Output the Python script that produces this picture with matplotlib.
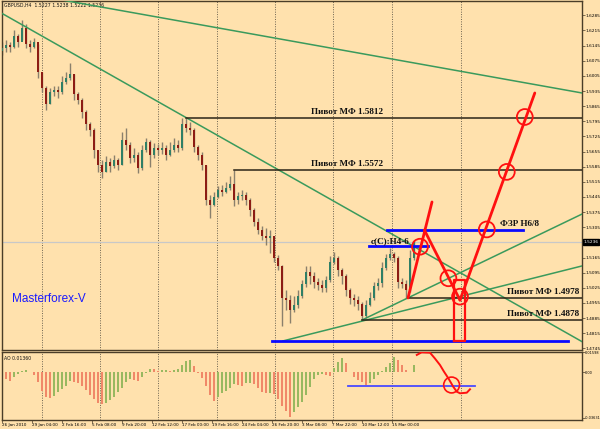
import numpy as np
import matplotlib.pyplot as plt

# GBPUSD H4, one drawn candle per two real bars (candle index = x)
closes = [1.6134, 1.6148, 1.6139, 1.6189, 1.6162, 1.6226, 1.6152, 1.6139, 1.6162, 1.6023,
          1.5949, 1.5875, 1.5931, 1.5940, 1.5931, 1.5977, 1.5995, 1.6014, 1.5921, 1.5894,
          1.5838, 1.5783, 1.5755, 1.5662, 1.5593, 1.5560, 1.5607, 1.5588, 1.5616, 1.5593,
          1.5709, 1.5685, 1.5625, 1.5639, 1.5579, 1.5662, 1.5699, 1.5639, 1.5672, 1.5662,
          1.5672, 1.5639, 1.5662, 1.5685, 1.5672, 1.5783, 1.5764, 1.5755, 1.5676, 1.5639,
          1.5593, 1.5431, 1.5408, 1.5445, 1.5477, 1.5468, 1.5487, 1.5505, 1.5431, 1.5450,
          1.5454, 1.5431, 1.5385, 1.5329, 1.5292, 1.5265, 1.5255, 1.5265, 1.5163, 1.5126,
          1.4978, 1.4969, 1.4922, 1.4945, 1.4987, 1.5043, 1.5098, 1.5080, 1.5052, 1.5038,
          1.5024, 1.5061, 1.5144, 1.5163, 1.5107, 1.5080, 1.5015, 1.4978, 1.4969, 1.4950,
          1.4894, 1.4945, 1.4978, 1.5034, 1.5047, 1.5117, 1.5163, 1.5181, 1.5163, 1.5052,
          1.5043, 1.5015, 1.5163, 1.5236]
highs = [1.6162, 1.6171, 1.6162, 1.6217, 1.6199, 1.6264, 1.6245, 1.6171, 1.6180, 1.6152,
         1.6023, 1.5958, 1.5949, 1.5958, 1.5958, 1.6005, 1.6023, 1.6065, 1.6014, 1.5931,
         1.5903, 1.5847, 1.5792, 1.5764, 1.5662, 1.5616, 1.5634, 1.5625, 1.5639, 1.5625,
         1.5746, 1.5764, 1.5699, 1.5672, 1.5653, 1.5685, 1.5718, 1.5709, 1.5695, 1.5690,
         1.5699, 1.5685, 1.5699, 1.5718, 1.5709, 1.5810, 1.5812, 1.5792, 1.5764, 1.5685,
         1.5653, 1.5593, 1.5454, 1.5468, 1.5496, 1.5500, 1.5514, 1.5542, 1.5572, 1.5468,
         1.5477, 1.5468, 1.5440, 1.5394, 1.5348, 1.5311, 1.5302, 1.5292, 1.5265, 1.5177,
         1.5130, 1.5015, 1.4992, 1.4987, 1.5015, 1.5061, 1.5126, 1.5126, 1.5098, 1.5070,
         1.5061, 1.5080, 1.5172, 1.5191, 1.5172, 1.5117, 1.5089, 1.5024, 1.4996, 1.4987,
         1.4959, 1.4969, 1.5006, 1.5052, 1.5070, 1.5144, 1.5181, 1.5209, 1.5191, 1.5172,
         1.5070, 1.5061, 1.5200, 1.5246]
lows = [1.6102, 1.6116, 1.6116, 1.6134, 1.6139, 1.6171, 1.6134, 1.6116, 1.6134, 1.5995,
        1.5931, 1.5847, 1.5875, 1.5912, 1.5903, 1.5921, 1.5968, 1.5986, 1.5894, 1.5875,
        1.5810, 1.5755, 1.5727, 1.5625, 1.5560, 1.5533, 1.5560, 1.5560, 1.5579, 1.5570,
        1.5593, 1.5662, 1.5602, 1.5607, 1.5556, 1.5570, 1.5653, 1.5584, 1.5625, 1.5639,
        1.5644, 1.5616, 1.5634, 1.5653, 1.5653, 1.5662, 1.5746, 1.5732, 1.5653, 1.5616,
        1.5570, 1.5408, 1.5348, 1.5403, 1.5440, 1.5450, 1.5463, 1.5477, 1.5403, 1.5413,
        1.5431, 1.5408, 1.5357, 1.5311, 1.5274, 1.5246, 1.5223, 1.5186, 1.5144, 1.5107,
        1.4848, 1.4922, 1.4862, 1.4913, 1.4932, 1.4978, 1.5029, 1.5043, 1.5024, 1.5015,
        1.5006, 1.5006, 1.5052, 1.5135, 1.5080, 1.5043, 1.4987, 1.4950, 1.4941, 1.4922,
        1.4878, 1.4885, 1.4941, 1.4969, 1.5015, 1.5029, 1.5107, 1.5153, 1.5144, 1.5024,
        1.5024, 1.4978, 1.5006, 1.5153]
first_open = 1.6120

ao = [-0.0034, -0.0053, -0.0066, -0.0040, -0.0013, 0.0013, 0.0019, 0.0003, -0.0019, -0.0077,
      -0.0146, -0.0193, -0.0207, -0.0186, -0.0159, -0.0135, -0.0106, -0.0069, -0.0077, -0.0087,
      -0.0109, -0.0140, -0.0180, -0.0212, -0.0241, -0.0254, -0.0244, -0.0220, -0.0193, -0.0156,
      -0.0125, -0.0080, -0.0056, -0.0061, -0.0066, -0.0040, -0.0008, 0.0027, 0.0024, 0.0013,
      0.0016, 0.0019, 0.0011, 0.0019, 0.0029, 0.0058, 0.0090, 0.0098, 0.0050, -0.0003,
      -0.0048, -0.0109, -0.0180, -0.0228, -0.0199, -0.0167, -0.0148, -0.0127, -0.0093, -0.0101,
      -0.0106, -0.0087, -0.0082, -0.0095, -0.0127, -0.0154, -0.0167, -0.0162, -0.0170, -0.0215,
      -0.0265, -0.0310, -0.0352, -0.0318, -0.0278, -0.0236, -0.0178, -0.0114, -0.0053, -0.0024,
      -0.0013, -0.0019, -0.0029, 0.0032, 0.0082, 0.0111, 0.0072, 0.0005, -0.0034, -0.0058,
      -0.0074, -0.0098, -0.0082, -0.0050, -0.0021, 0.0013, 0.0040, 0.0077, 0.0119, 0.0098,
      0.0056, 0.0019, 0.0003, 0.0058]

date_labels = ["26 Jan 2010", "29 Jan 04:00", "2 Feb 16:00", "5 Feb 08:00", "9 Feb 20:00",
               "12 Feb 12:00", "17 Feb 00:00", "19 Feb 16:00", "24 Feb 04:00", "26 Feb 20:00",
               "3 Mar 08:00", "7 Mar 22:00", "10 Mar 12:00", "15 Mar 00:00"]
price_ticks = [1.6285, 1.6215, 1.6145, 1.6075, 1.6005, 1.5935, 1.5865, 1.5795, 1.5725, 1.5655,
               1.5585, 1.5515, 1.5445, 1.5375, 1.5305, 1.5165, 1.5095, 1.5025, 1.4955, 1.4885,
               1.4815, 1.4745]
last_price = 1.5236

# pivot levels: (price, start candle, label right end)
pivots = [(1.5812, 46, 95.3), (1.5572, 58, 95.3), (1.4978, 101.5, 144.3), (1.4878, 90, 144.3)]
# green trend lines (x0, p0, x1, p1)
green_lines = [(15, 1.6356, 145, 1.5926), (0, 1.6294, 145, 1.4776),
               (70.2, 1.4779, 145, 1.5126), (90, 1.4876, 145, 1.5366)]
# blue levels (price, x0, x1)
blue_levels = [(1.4779, 67.5, 141.5), (1.5216, 91.7, 106.5), (1.5292, 96.2, 130.2)]
# red forecast strokes
red_strokes = [([101.5, 107.5], [1.4978, 1.5422]),
               ([105.6, 114.5], [1.5292, 1.4968]),
               ([114.5, 133.2], [1.4968, 1.5926])]
red_circles_x = [104.5, 111.6, 114.5, 121.2, 126.2, 130.7]
red_circles_p = [1.5215, 1.5069, 1.4984, 1.5295, 1.5561, 1.5815]
red_box = (113.0, 115.8, 1.4779, 1.5061)
time_line_x = 114.75
ao_blue = (-0.0107, 86.4, 118.2)
ao_curve_x = [103.7, 104.9, 107.0, 108.2, 109.5, 110.5, 111.6, 112.8, 113.7, 114.5, 116.2, 117.0]
ao_curve_v = [0.0138, 0.0159, 0.0156, 0.0111, 0.0058, 0.0005, -0.0048, -0.0114, -0.0154,
              -0.0167, -0.0162, -0.0135]
ao_circle = (112.4, -0.0101)

bg = "#ffe1ad"
frame = "#4a3d28"
fig = plt.figure(figsize=(6, 4.29), dpi=100, facecolor=bg)
ax = fig.add_axes([0.0025, 1 - 349.5 / 429, 0.967, 349.0 / 429])
ax2 = fig.add_axes([0.0025, 1 - 420 / 429, 0.967, 68.5 / 429], sharex=ax)
for a in (ax, ax2):
    a.set_facecolor(bg)
    for s in a.spines.values():
        s.set_color(frame)
        s.set_linewidth(1.0)
    a.yaxis.tick_right()
    a.tick_params(axis="y", labelsize=3.1, length=2, width=0.5, color=frame, pad=1.0)
    for g in [9.9, 24.5, 39.1, 53.7, 68.3, 82.8, 97.4]:
        a.axvline(g, color="#6b6250", lw=0.7, ls=(0, (1, 1.5)), zorder=0)
    a.axvline(time_line_x, color="#6b6250", lw=0.7, ls=(0, (1, 1.5)), zorder=0)

n = len(closes)
x = np.arange(n)
opens = [first_open] + closes[:-1]

ax.axhline(last_price, color="#c8c8c8", lw=0.9, zorder=1)
ax.vlines(x, lows, highs, color="#8a806c", lw=1.0, zorder=2)
body_lo = np.minimum(opens, closes)
body_h = np.abs(np.array(closes) - np.array(opens))
body_h = np.maximum(body_h, 0.0003)
colors = ["#2f7f66" if c >= o else "#8c1c14" for o, c in zip(opens, closes)]
ax.bar(x, body_h, bottom=body_lo, width=0.6, color=colors, zorder=3)

for x0, p0, x1, p1 in green_lines:
    ax.plot([x0, x1], [p0, p1], color="#3a9a5c", lw=1.1, zorder=4)
for lvl, xs, xe in pivots:
    ax.plot([xs, 145], [lvl, lvl], color="#2b2418", lw=1.1, zorder=4)
    ax.annotate("Пивот МФ %.4f" % lvl, (xe, lvl), xytext=(0, 1.2), textcoords="offset points",
                ha="right", va="bottom", fontsize=6.6, fontweight="bold",
                family="Liberation Serif", color="#111111", zorder=6)
for lvl, xs, xe in blue_levels:
    ax.plot([xs, xe], [lvl, lvl], color="#0a0aff", lw=2.0, zorder=5)
ax.annotate("c(C):H4-6", (102, 1.5216), xytext=(0, 1.0), textcoords="offset points",
            ha="right", va="bottom", fontsize=6.6, fontweight="bold",
            family="Liberation Serif", color="#111111", zorder=6)
ax.annotate("ФЗР H6/8", (124.5, 1.5292), xytext=(0, 1.5), textcoords="offset points",
            ha="left", va="bottom", fontsize=6.6, fontweight="bold",
            family="Liberation Serif", color="#111111", zorder=6)

for xs, ps in red_strokes:
    ax.plot(xs, ps, color="#ff1010", lw=2.0, zorder=7, solid_capstyle="round")
ax.scatter(red_circles_x, red_circles_p, s=130, facecolors="none", edgecolors="#ff1010",
           linewidths=1.3, zorder=8)
bx0, bx1, bp0, bp1 = red_box
ax.plot([bx0, bx1, bx1, bx0, bx0], [bp0, bp0, bp1, bp1, bp0], color="#ff1010", lw=1.6, zorder=7)

ax.text(2.5, 1.4973, "Masterforex-V", color="#1a1aff", fontsize=8.5,
        family="Liberation Sans", va="center", ha="left", zorder=6)
ax.text(0.004, 0.994, "GBPUSD,H4  1.5227 1.5238 1.5222 1.5236", transform=ax.transAxes,
        fontsize=3.3, va="top", ha="left", color="#111111")

ax.set_ylim(1.47396, 1.63537)
ax.set_yticks(price_ticks)
ax.set_yticklabels(["%.4f" % p for p in price_ticks])
ax.text(1.003, (last_price - 1.47396) / (1.63537 - 1.47396), "%.4f" % last_price,
        transform=ax.transAxes, fontsize=3.1, color="white", va="center", ha="left",
        bbox=dict(boxstyle="square,pad=0.2", fc="black", ec="black"))
ax.tick_params(axis="x", bottom=False, labelbottom=False)

# Awesome Oscillator
ao_colors = ["#98b860"] + ["#98b860" if ao[i] > ao[i - 1] else "#f08868" for i in range(1, n)]
ax2.bar(x, ao, width=0.7, color=ao_colors, zorder=2)
ax2.plot([ao_blue[1], ao_blue[2]], [ao_blue[0]] * 2, color="#4a4aff", lw=1.3, zorder=4)
ax2.plot(ao_curve_x, ao_curve_v, color="#ff1010", lw=1.4, zorder=5)
ax2.scatter([ao_circle[0]], [ao_circle[1]], s=130, facecolors="none", edgecolors="#ff1010",
            linewidths=1.2, zorder=6)
ax2.set_ylim(-0.03792, 0.01654)
ax2.set_yticks([0.01598, 0.0, -0.03631])
ax2.set_yticklabels(["0.01598", "0.00", "-0.03631"])
ax2.tick_params(axis="y", labelsize=2.5, pad=0.5)
ax2.text(0.004, 0.93, "AO 0.01360", transform=ax2.transAxes, fontsize=3.3,
         va="top", ha="left", color="#111111")

ax2.set_xlim(-0.125, 144.925)
ax2.set_xticks([7.5 * k for k in range(len(date_labels))])
ax2.set_xticklabels(date_labels, ha="left")
ax2.tick_params(axis="x", labelsize=3.0, length=2, width=0.5, color=frame, pad=0.5)

fig.savefig("out.png", dpi=100, facecolor=bg)
